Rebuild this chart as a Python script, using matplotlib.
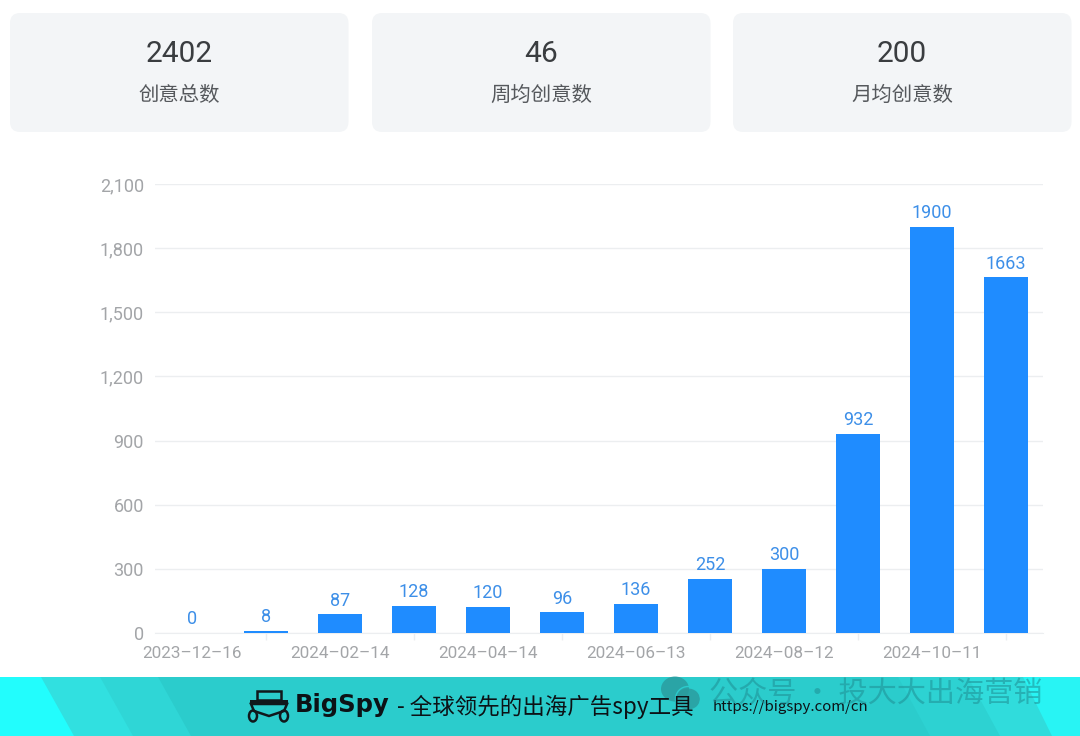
import matplotlib
matplotlib.use('Agg')
from matplotlib import pyplot as plt
from matplotlib.patches import FancyBboxPatch, Polygon, Rectangle, Ellipse, Circle

plt.rcParams['font.family'] = ['Roboto', 'Noto Sans CJK SC', 'DejaVu Sans']

#Data
dates = ['2023–12–16', '', '2024–02–14', '', '2024–04–14', '', '2024–06–13', '',
         '2024–08–12', '', '2024–10–11', '']
counts = [0, 8, 87, 128, 120, 96, 136, 252, 300, 932, 1900, 1663]
yticks = [0, 300, 600, 900, 1200, 1500, 1800, 2100]
card_values = ['2402', '46', '200']
card_names = ['创意总数', '周均创意数', '月均创意数']

W, H = 1080, 736
fig = plt.figure(figsize=(W/100, H/100), dpi=100)

#Background layer in pixel coords
bg = fig.add_axes([0, 0, 1, 1])
bg.set_xlim(0, W)
bg.set_ylim(H, 0)
bg.axis('off')

#Cards
card_left = [10, 372, 733]
card_w = 338.5
for left, val, name in zip(card_left, card_values, card_names):
    bg.add_patch(FancyBboxPatch((left+10, 23), card_w-20, 99, boxstyle='round,pad=10,rounding_size=10',
                                fc='#f3f5f7', ec='none'))
    bg.text(left+card_w/2, 53.5, val, fontsize=21.5, color='#3a3d40', ha='center', va='center')
    bg.text(left+card_w/2, 95, name, fontsize=14.7, color='#55585c', ha='center', va='center')

#Banner
bg.add_patch(Rectangle((0, 677), W, 59, fc='#2bcccc', ec='none'))
bg.add_patch(Polygon([(0, 677), (158, 677), (191, 736), (0, 736)], fc='#2fd6d6', ec='none'))
bg.add_patch(Polygon([(0, 677), (100, 677), (133, 736), (0, 736)], fc='#31e0e0', ec='none'))
bg.add_patch(Polygon([(0, 677), (41, 677), (74, 736), (0, 736)], fc='#22fdfd', ec='none'))
bg.add_patch(Polygon([(898, 677), (1080, 677), (1080, 736), (930, 736)], fc='#2dd2d2', ec='none'))
bg.add_patch(Polygon([(968, 677), (1080, 677), (1080, 736), (1000, 736)], fc='#30dcdc', ec='none'))
bg.add_patch(Polygon([(1023, 677), (1080, 677), (1080, 736), (1052, 736)], fc='#28f4f4', ec='none'))

#Logo
bg.add_patch(Rectangle((257, 691), 24, 9, fc='none', ec='#10181c', lw=1.8))
bg.add_patch(Rectangle((250, 700), 38, 2.5, fc='#10181c', ec='none'))
bg.add_patch(Polygon([(251, 704), (287, 704), (284, 711), (269, 716), (254, 711)], fc='none', ec='#10181c', lw=1.8))
bg.add_patch(Ellipse((253, 716), 8, 11, fc='none', ec='#10181c', lw=1.8))
bg.add_patch(Ellipse((284, 716), 8, 11, fc='none', ec='#10181c', lw=1.8))
bg.text(295, 705, 'BigSpy', fontsize=17.5, fontweight='bold', color='#0c1216', ha='left', va='center',
        family=['DejaVu Sans'])
bg.text(397, 706.5, '- 全球领先的出海广告spy工具', fontsize=16.2, color='#0c1216', ha='left', va='center',
        family=['Noto Sans CJK SC'])
bg.text(713, 707, 'https://bigspy.com/cn', fontsize=10.8, color='#0c1216', ha='left', va='center',
        family=['Noto Sans CJK SC'])

#Watermark
bg.add_patch(Ellipse((675, 689), 28, 25, fc='#2a9a9d', ec='none', alpha=.8))
bg.add_patch(Ellipse((688, 699), 24, 21, fc='#2a9a9d', ec='none', alpha=.8))
bg.add_patch(Circle((688, 699), 12.5, fc='none', ec='#2bcccc', lw=1))
bg.text(709, 695, '公众号 · 投大大出海营销', fontsize=21, color='#1f8f94', alpha=.55, ha='left', va='center',
        family=['Noto Sans CJK SC'])

#Chart
x0, x1, y_top, y_bot = 155, 1043, 184, 633
ax = fig.add_axes([x0/W, 1-y_bot/H, (x1-x0)/W, (y_bot-y_top)/H])
ax.patch.set_alpha(0)
xs = list(range(len(counts)))
bars = ax.bar(xs, counts, width=.595, color='#1f8cff', zorder=3)
ax.bar_label(bars, padding=3.5, fontsize=13, color='#3d8fe8')
ax.set_xlim(-.5, len(counts)-.5)
ax.set_ylim(0, 2100)
ax.set_yticks(yticks)
ax.set_yticklabels([f'{v:,}' for v in yticks])
ax.tick_params(axis='y', length=0, pad=8, labelsize=13, labelcolor='#a3a5a8')
#labels sit on even categories, tick marks on the odd ones
ax.set_xticks(xs[::2])
ax.set_xticklabels(dates[::2])
ax.tick_params(axis='x', length=0, pad=9.5, labelsize=12.3, labelcolor='#a3a5a8')
ax.set_xticks(xs[1::2], minor=True)
ax.tick_params(axis='x', which='minor', length=5, width=1, color='#eceef0')
ax.grid(axis='y', color='#eceef0', lw=1, zorder=0)
for s in ['top', 'right', 'left']:
    ax.spines[s].set_visible(False)
ax.spines['bottom'].set_color('#eceef0')

fig.savefig('out.png', dpi=100)
